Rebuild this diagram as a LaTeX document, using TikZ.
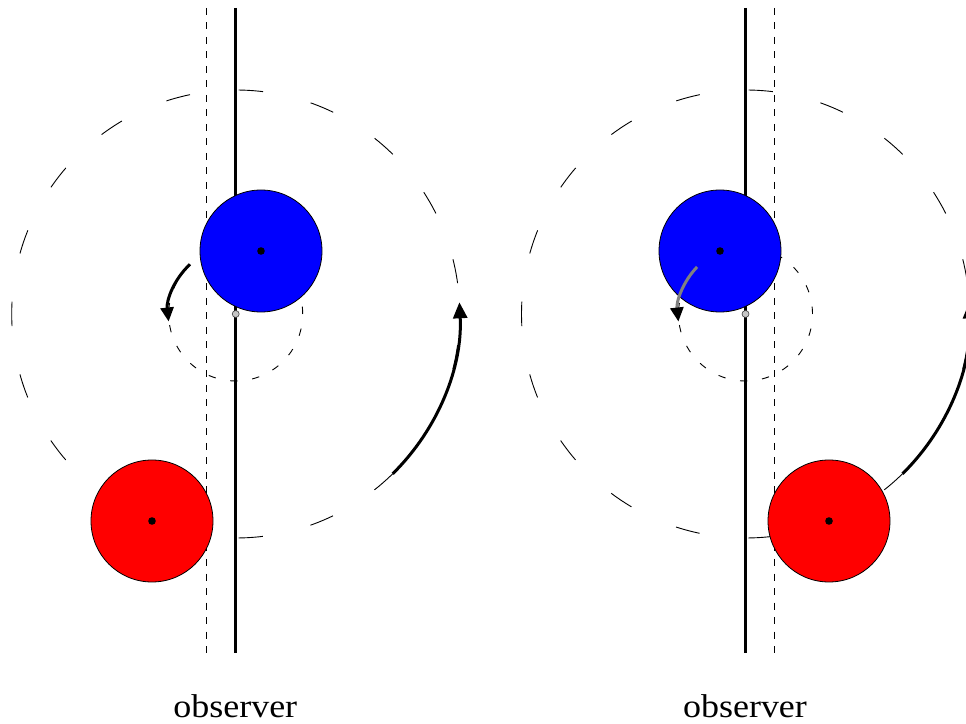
\documentclass[tikz,border=0pt]{standalone}
\usepackage{fontspec}
\setmainfont{Liberation Serif}
\newfontfamily\widecaption[FakeStretch=1.09]{Liberation Serif}
\usetikzlibrary{arrows.meta}
\tikzset{
  wall/.style={line width=3pt},
  guide/.style={line width=0.9pt, dash pattern=on 7pt off 7.5pt},
  orbitbig/.style={line width=0.9pt, dash pattern=on 24.4pt off 49pt, dash phase=42.5pt},
  orbitsmall/.style={line width=0.9pt, dash pattern=on 7.39pt off 14.77pt},
  body/.style={circle, draw=black, line width=0.8pt, inner sep=0pt, minimum size=122pt},
  centerdot/.style={circle, fill=black, inner sep=0pt, minimum size=7.6pt},
  pivot/.style={circle, fill=gray!45, draw=gray!50!black, line width=0.6pt, inner sep=0pt, minimum size=7pt},
  motion/.style={line width=3pt, -{Triangle[length=16pt,width=14pt]}},
  smallmotion/.style={line width=3pt, -{Triangle[length=14pt,width=13pt,color=black]}},
  caption/.style={font=\widecaption\fontsize{33}{38}\selectfont, anchor=base, inner sep=0pt},
}
\begin{document}
\begin{tikzpicture}[x=1pt,y=1pt]
\useasboundingbox (0,0) rectangle (966,723);
\clip (0,0) rectangle (966,723);

% ---------- left panel ----------
\coordinate (cL) at (235.7,409);
\coordinate (tL) at (235.7,715);
\coordinate (bL) at (235.7,70);
\coordinate (gtL) at (206.7,715);
\coordinate (gbL) at (206.7,70);
\draw[guide] (gtL) -- (gbL);
\draw[wall] (tL) -- (bL);
\draw[orbitbig] (cL) circle[radius=224pt];
\draw[orbitsmall] (cL) circle[radius=67pt];
\node[body, fill=red] (redL) at (152,202) {};
\node[body, fill=blue] (blueL) at (261,472) {};
\node[centerdot] (redLc) at (redL.center) {};
\node[centerdot] (blueLc) at (blueL.center) {};
\node[pivot] (pivL) at (cL) {};
\draw[smallmotion, black] ([shift={(132.6:67.5pt)}]cL) arc[start angle=132.6, end angle=186.4, radius=67.5pt];
\draw[motion] ([shift={(-45.5:224pt)}]cL) arc[start angle=-45.5, end angle=3, radius=224pt];
\node[caption] (obsL) at (235.3,6) {observer};

% ---------- right panel ----------
\coordinate (cR) at (745.5,409);
\coordinate (tR) at (745.5,715);
\coordinate (bR) at (745.5,70);
\coordinate (gtR) at (774.7,715);
\coordinate (gbR) at (774.7,70);
\draw[guide] (gtR) -- (gbR);
\draw[wall] (tR) -- (bR);
\draw[orbitbig] (cR) circle[radius=224pt];
\draw[orbitsmall] (cR) circle[radius=67pt];
\node[body, fill=red] (redR) at (829,202) {};
\node[body, fill=blue] (blueR) at (720,472) {};
\node[centerdot] (redRc) at (redR.center) {};
\node[centerdot] (blueRc) at (blueR.center) {};
\node[pivot] (pivR) at (cR) {};
\draw[smallmotion, gray] ([shift={(135.8:67.5pt)}]cR) arc[start angle=135.8, end angle=186.4, radius=67.5pt];
\draw[motion] ([shift={(-45.5:224pt)}]cR) arc[start angle=-45.5, end angle=3, radius=224pt];
\node[caption] (obsR) at (745,6) {observer};
\end{tikzpicture}
\end{document}
